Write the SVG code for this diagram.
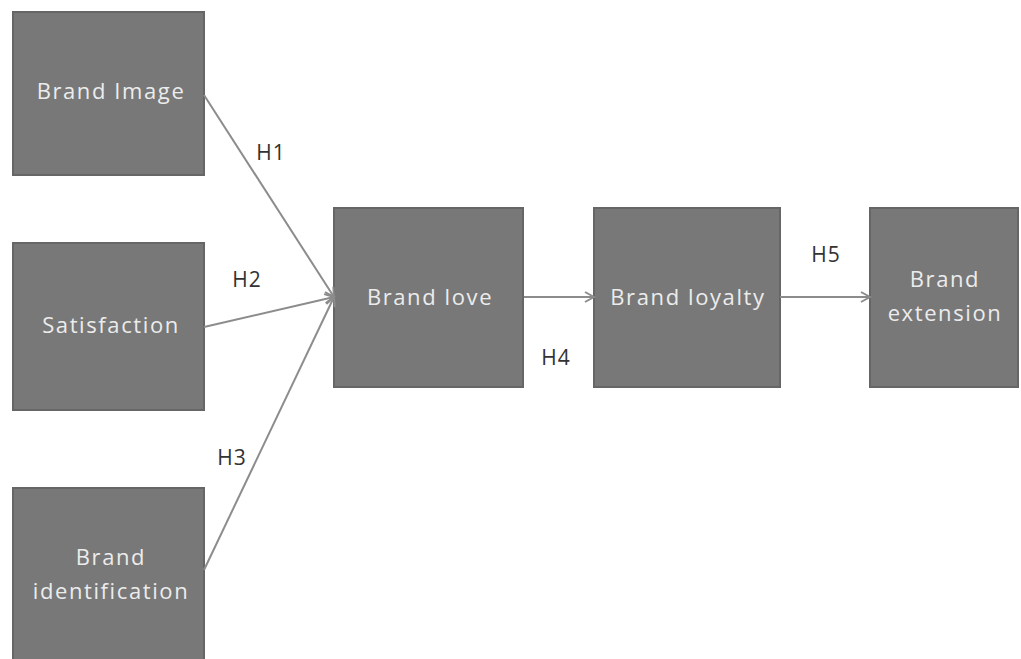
<svg xmlns="http://www.w3.org/2000/svg" width="1021" height="659" viewBox="0 0 1021 659">
<defs>
<style>
.box{fill:#787878;stroke:#666;stroke-width:2}
.lbl{font-family:"Open Sans","DejaVu Sans",sans-serif;font-size:22px;letter-spacing:1.6px;fill:#ececec;text-anchor:middle}
.h{font-family:"Open Sans","DejaVu Sans",sans-serif;font-size:21px;letter-spacing:1px;fill:#333;text-anchor:middle}
.c{stroke:#8c8c8c;stroke-width:2;fill:none}
</style>
<marker id="ar" markerWidth="12" markerHeight="12" refX="10" refY="6" orient="auto" markerUnits="userSpaceOnUse">
<path d="M1,1 L10,6 L1,11" fill="none" stroke="#8c8c8c" stroke-width="2"/>
</marker>
</defs>
<rect width="1021" height="659" fill="#fff"/>
<g id="brand-image"><rect class="box" x="13" y="12" width="191" height="163"/><text class="lbl" x="111" y="99">Brand Image</text></g>
<g id="satisfaction"><rect class="box" x="13" y="243" width="191" height="167"/><text class="lbl" x="111" y="333">Satisfaction</text></g>
<g id="brand-identification"><rect class="box" x="13" y="488" width="191" height="180"/><text class="lbl" x="111" y="565">Brand</text><text class="lbl" x="111" y="599">identification</text></g>
<g id="brand-love"><rect class="box" x="334" y="208" width="189" height="179"/><text class="lbl" x="430" y="305">Brand love</text></g>
<g id="brand-loyalty"><rect class="box" x="594" y="208" width="186" height="179"/><text class="lbl" x="688" y="305">Brand loyalty</text></g>
<g id="brand-extension"><rect class="box" x="870" y="208" width="148" height="179"/><text class="lbl" x="945" y="287">Brand</text><text class="lbl" x="945" y="321">extension</text></g>
<g id="connectors">
<line class="c" x1="204" y1="95" x2="334" y2="297" marker-end="url(#ar)"/>
<line class="c" x1="204" y1="327" x2="334" y2="297" marker-end="url(#ar)"/>
<line class="c" x1="204" y1="570" x2="334" y2="297" marker-end="url(#ar)"/>
<line class="c" x1="524" y1="297" x2="594" y2="297" marker-end="url(#ar)"/>
<line class="c" x1="780" y1="297" x2="870" y2="297" marker-end="url(#ar)"/>
</g>
<g id="labels">
<text class="h" x="271" y="160">H1</text>
<text class="h" x="247" y="287">H2</text>
<text class="h" x="232" y="465">H3</text>
<text class="h" x="556" y="365">H4</text>
<text class="h" x="826" y="262">H5</text>
</g>
</svg>
